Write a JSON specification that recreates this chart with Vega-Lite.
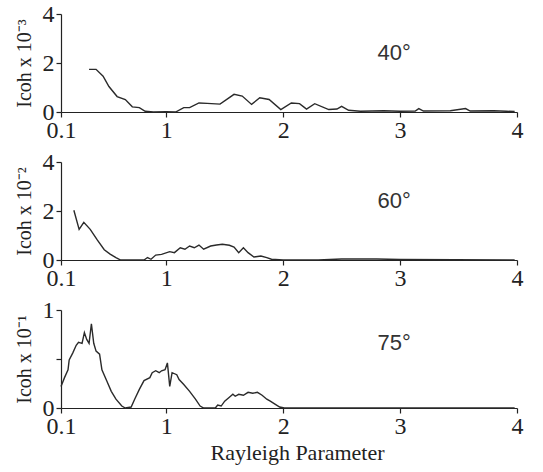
{
  "$schema": "https://vega.github.io/schema/vega-lite/v6.json",
  "padding": {"left": 14, "top": 2, "right": 10, "bottom": 5},
  "background": "white",
  "bounds": "flush",
  "spacing": 50,
  "config": {
    "view": {"stroke": null},
    "font": "Liberation Serif",
    "axis": {
      "grid": false,
      "labelFlush": false,
      "labelOverlap": false,
      "domainColor": "#222",
      "tickColor": "#222",
      "labelColor": "#222",
      "titleColor": "#222",
      "labelFont": "Liberation Serif",
      "titleFont": "Liberation Serif",
      "labelFontSize": 24,
      "titleFontWeight": "normal",
      "tickSize": 5,
      "domainWidth": 1.2,
      "tickWidth": 1.2
    }
  },
  "datasets": {
    "c40": [
      {"x": 0.34, "y": 1.74}, {"x": 0.40, "y": 1.74}, {"x": 0.46, "y": 1.46}, {"x": 0.51, "y": 1.04},
      {"x": 0.58, "y": 0.63}, {"x": 0.65, "y": 0.51}, {"x": 0.71, "y": 0.21}, {"x": 0.77, "y": 0.18},
      {"x": 0.82, "y": 0.03}, {"x": 0.89, "y": 0.0}, {"x": 1.0, "y": 0.01}, {"x": 1.08, "y": 0.0},
      {"x": 1.15, "y": 0.18}, {"x": 1.20, "y": 0.18}, {"x": 1.28, "y": 0.37}, {"x": 1.35, "y": 0.35},
      {"x": 1.46, "y": 0.32}, {"x": 1.58, "y": 0.72}, {"x": 1.65, "y": 0.65}, {"x": 1.73, "y": 0.31},
      {"x": 1.80, "y": 0.58}, {"x": 1.88, "y": 0.51}, {"x": 1.98, "y": 0.1}, {"x": 2.07, "y": 0.37},
      {"x": 2.14, "y": 0.34}, {"x": 2.20, "y": 0.12}, {"x": 2.27, "y": 0.34}, {"x": 2.39, "y": 0.1},
      {"x": 2.46, "y": 0.12}, {"x": 2.50, "y": 0.23}, {"x": 2.56, "y": 0.07}, {"x": 2.66, "y": 0.03},
      {"x": 2.86, "y": 0.05}, {"x": 3.0, "y": 0.03}, {"x": 3.13, "y": 0.04}, {"x": 3.16, "y": 0.14},
      {"x": 3.20, "y": 0.04}, {"x": 3.43, "y": 0.05}, {"x": 3.56, "y": 0.14}, {"x": 3.60, "y": 0.04},
      {"x": 3.80, "y": 0.05}, {"x": 3.91, "y": 0.03}, {"x": 3.98, "y": 0.02}
    ],
    "c60": [
      {"x": 0.21, "y": 2.03}, {"x": 0.255, "y": 1.25}, {"x": 0.295, "y": 1.54}, {"x": 0.35, "y": 1.25},
      {"x": 0.41, "y": 0.82}, {"x": 0.47, "y": 0.42}, {"x": 0.52, "y": 0.24}, {"x": 0.57, "y": 0.1},
      {"x": 0.61, "y": 0.0}, {"x": 0.81, "y": 0.0}, {"x": 0.84, "y": 0.1}, {"x": 0.87, "y": 0.03},
      {"x": 0.91, "y": 0.2}, {"x": 0.96, "y": 0.23}, {"x": 1.03, "y": 0.34}, {"x": 1.07, "y": 0.3},
      {"x": 1.12, "y": 0.5}, {"x": 1.16, "y": 0.44}, {"x": 1.20, "y": 0.57}, {"x": 1.24, "y": 0.5},
      {"x": 1.28, "y": 0.61}, {"x": 1.32, "y": 0.44}, {"x": 1.38, "y": 0.57}, {"x": 1.43, "y": 0.61},
      {"x": 1.48, "y": 0.64}, {"x": 1.54, "y": 0.6}, {"x": 1.58, "y": 0.53}, {"x": 1.62, "y": 0.3},
      {"x": 1.66, "y": 0.5}, {"x": 1.70, "y": 0.3}, {"x": 1.75, "y": 0.12}, {"x": 1.81, "y": 0.16},
      {"x": 1.86, "y": 0.1}, {"x": 1.90, "y": 0.03}, {"x": 2.0, "y": 0.0}, {"x": 2.3, "y": 0.0},
      {"x": 2.5, "y": 0.04}, {"x": 2.8, "y": 0.04}, {"x": 3.0, "y": 0.02}, {"x": 3.98, "y": 0.0}
    ],
    "c75": [
      {"x": 0.1, "y": 0.22}, {"x": 0.13, "y": 0.31}, {"x": 0.16, "y": 0.39}, {"x": 0.17, "y": 0.49},
      {"x": 0.2, "y": 0.56}, {"x": 0.23, "y": 0.64}, {"x": 0.25, "y": 0.67}, {"x": 0.28, "y": 0.66},
      {"x": 0.3, "y": 0.77}, {"x": 0.32, "y": 0.7}, {"x": 0.34, "y": 0.66}, {"x": 0.36, "y": 0.86},
      {"x": 0.38, "y": 0.66}, {"x": 0.4, "y": 0.58}, {"x": 0.43, "y": 0.55}, {"x": 0.45, "y": 0.39},
      {"x": 0.49, "y": 0.28}, {"x": 0.53, "y": 0.17}, {"x": 0.57, "y": 0.09}, {"x": 0.62, "y": 0.02},
      {"x": 0.65, "y": 0.0}, {"x": 0.7, "y": 0.01}, {"x": 0.73, "y": 0.09}, {"x": 0.77, "y": 0.19},
      {"x": 0.81, "y": 0.28}, {"x": 0.86, "y": 0.31}, {"x": 0.88, "y": 0.36}, {"x": 0.91, "y": 0.38},
      {"x": 0.94, "y": 0.36}, {"x": 0.96, "y": 0.38}, {"x": 0.99, "y": 0.39}, {"x": 1.01, "y": 0.46},
      {"x": 1.03, "y": 0.22}, {"x": 1.05, "y": 0.36}, {"x": 1.09, "y": 0.34}, {"x": 1.11, "y": 0.29},
      {"x": 1.15, "y": 0.24}, {"x": 1.2, "y": 0.17}, {"x": 1.25, "y": 0.09}, {"x": 1.29, "y": 0.02},
      {"x": 1.32, "y": 0.0}, {"x": 1.42, "y": 0.0}, {"x": 1.44, "y": 0.03}, {"x": 1.47, "y": 0.02},
      {"x": 1.5, "y": 0.07}, {"x": 1.54, "y": 0.11}, {"x": 1.57, "y": 0.14}, {"x": 1.59, "y": 0.12},
      {"x": 1.62, "y": 0.14}, {"x": 1.66, "y": 0.13}, {"x": 1.7, "y": 0.16}, {"x": 1.74, "y": 0.15},
      {"x": 1.78, "y": 0.16}, {"x": 1.82, "y": 0.13}, {"x": 1.86, "y": 0.09}, {"x": 1.89, "y": 0.07},
      {"x": 1.93, "y": 0.04}, {"x": 1.97, "y": 0.01}, {"x": 2.01, "y": 0.0}, {"x": 3.98, "y": 0.0}
    ]
  },
  "vconcat": [
    {
      "width": 456, "height": 98,
      "layer": [
        {
          "data": {"name": "c40"},
          "mark": {"type": "line", "color": "#2a2a2a", "strokeWidth": 1.4, "interpolate": "linear"},
          "encoding": {
            "x": {"field": "x", "type": "quantitative", "scale": {"domain": [0.1, 4], "nice": false, "zero": false},
                  "axis": {"values": [0.1, 1, 2, 3, 4], "format": ".1~f", "title": null, "labelPadding": 1}},
            "y": {"field": "y", "type": "quantitative", "scale": {"domain": [0, 4], "nice": false},
                  "axis": {"values": [0, 2, 4], "title": "Icoh x 10⁻³", "titleFontSize": 20, "titlePadding": 8, "labelPadding": 2}}
          }
        },
        {
          "data": {"values": [{"x": 2.95, "y": 2.4, "label": "40°"}]},
          "mark": {"type": "text", "font": "Liberation Sans", "fontSize": 22, "color": "#333"},
          "encoding": {
            "x": {"field": "x", "type": "quantitative"},
            "y": {"field": "y", "type": "quantitative"},
            "text": {"field": "label"}
          }
        }
      ]
    },
    {
      "width": 456, "height": 98,
      "layer": [
        {
          "data": {"name": "c60"},
          "mark": {"type": "line", "color": "#2a2a2a", "strokeWidth": 1.4},
          "encoding": {
            "x": {"field": "x", "type": "quantitative", "scale": {"domain": [0.1, 4], "nice": false, "zero": false},
                  "axis": {"values": [0.1, 1, 2, 3, 4], "format": ".1~f", "title": null, "labelPadding": 1}},
            "y": {"field": "y", "type": "quantitative", "scale": {"domain": [0, 4], "nice": false},
                  "axis": {"values": [0, 2, 4], "title": "Icoh x 10⁻²", "titleFontSize": 20, "titlePadding": 8, "labelPadding": 2}}
          }
        },
        {
          "data": {"values": [{"x": 2.95, "y": 2.4, "label": "60°"}]},
          "mark": {"type": "text", "font": "Liberation Sans", "fontSize": 22, "color": "#333"},
          "encoding": {
            "x": {"field": "x", "type": "quantitative"},
            "y": {"field": "y", "type": "quantitative"},
            "text": {"field": "label"}
          }
        }
      ]
    },
    {
      "width": 456, "height": 98,
      "layer": [
        {
          "data": {"name": "c75"},
          "mark": {"type": "line", "color": "#2a2a2a", "strokeWidth": 1.4},
          "encoding": {
            "x": {"field": "x", "type": "quantitative", "scale": {"domain": [0.1, 4], "nice": false, "zero": false},
                  "axis": {"values": [0.1, 1, 2, 3, 4], "format": ".1~f", "title": "Rayleigh Parameter", "titleFontSize": 22, "titlePadding": 4, "titleX": 236, "labelPadding": 1}},
            "y": {"field": "y", "type": "quantitative", "scale": {"domain": [0, 1], "nice": false},
                  "axis": {"values": [0, 0.5, 1], "format": "~g", "labelExpr": "datum.value == 0.5 ? '' : datum.label", "title": "Icoh x 10⁻¹", "titleFontSize": 20, "titlePadding": 8, "labelPadding": 2}}
          }
        },
        {
          "data": {"values": [{"x": 2.95, "y": 0.66, "label": "75°"}]},
          "mark": {"type": "text", "font": "Liberation Sans", "fontSize": 22, "color": "#333"},
          "encoding": {
            "x": {"field": "x", "type": "quantitative"},
            "y": {"field": "y", "type": "quantitative"},
            "text": {"field": "label"}
          }
        }
      ]
    }
  ]
}
